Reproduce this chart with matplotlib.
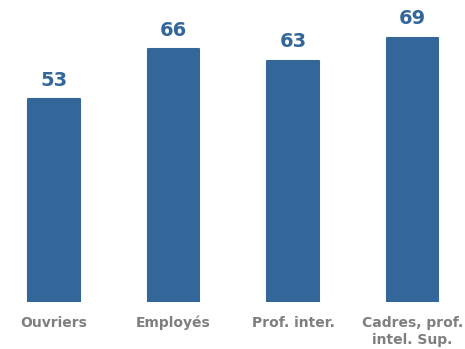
import matplotlib
matplotlib.use("Agg")
import matplotlib.pyplot as plt

categories = ["Ouvriers", "Employés", "Prof. inter.", "Cadres, prof.\nintel. Sup."]
values = [53, 66, 63, 69]

bar_color = "#336699"
text_gray = "#7f7f7f"

fig = plt.figure(figsize=(4.65, 3.49), dpi=100)
ax = fig.add_axes([0, 47/349, 1, 1 - 47/349])
x = list(range(len(categories)))
bars = ax.bar(x, values, width=0.435, color=bar_color, edgecolor=bar_color,
              linewidth=1.5, joinstyle="round")
ax.set_xlim(-54/119.5, (465-54)/119.5)
ax.set_ylim(0, 302/3.83)
for xi, v in zip(x, values):
    ax.text(xi, v + 3.5, str(v), ha="center", va="baseline", color=bar_color,
            fontsize=14, fontweight="bold", family="DejaVu Sans")
line_y = [-6.5, -10.9]
for xi, c in zip(x, categories):
    for ly, line in zip(line_y, c.split("\n")):
        ax.text(xi, ly, line, ha="center", va="baseline", color=text_gray,
                fontsize=10, fontweight="bold", family="DejaVu Sans")
ax.axis("off")
fig.savefig("out.png", dpi=100)
